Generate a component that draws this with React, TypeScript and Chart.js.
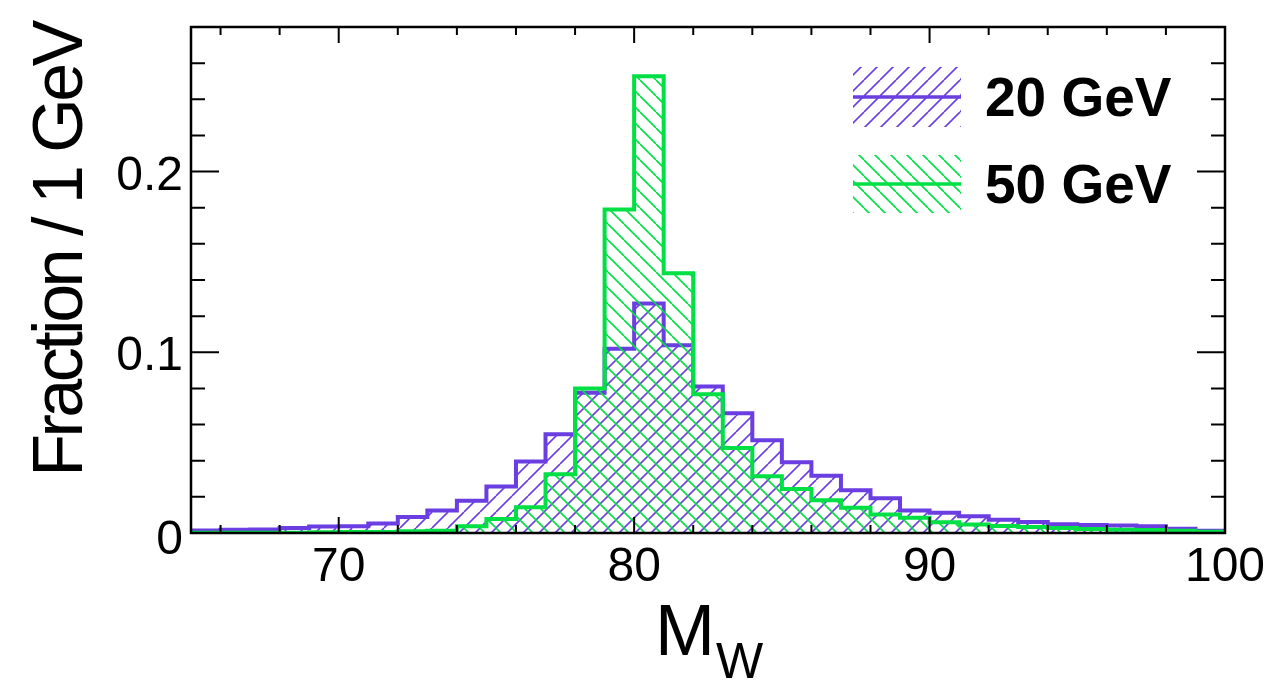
import React, { useEffect, useRef } from "react";
import { Chart, registerables } from "chart.js";

Chart.register(...registerables);

// low edge of each 1 GeV bin
const binLow = [
  65, 66, 67, 68, 69, 70, 71, 72, 73, 74, 75, 76, 77, 78, 79, 80, 81, 82,
  83, 84, 85, 86, 87, 88, 89, 90, 91, 92, 93, 94, 95, 96, 97, 98, 99,
];
const binHigh = 100;

const frac20 = [
  0.0014, 0.0018, 0.002, 0.0028, 0.0036, 0.0038, 0.0053, 0.0089, 0.0124,
  0.0179, 0.0258, 0.0395, 0.0546, 0.0776, 0.1019, 0.127, 0.1039, 0.081,
  0.0663, 0.0513, 0.0391, 0.0317, 0.0236, 0.0192, 0.0124, 0.0112, 0.0093,
  0.0074, 0.0061, 0.0048, 0.0044, 0.0042, 0.0037, 0.0024, 0.0013,
];
const frac50 = [
  0.0002, 0.0002, 0.0002, 0.0002, 0.0004, 0.0005, 0.0006, 0.0009, 0.0013,
  0.0037, 0.0078, 0.0143, 0.0325, 0.0799, 0.179, 0.2528, 0.1438, 0.0768,
  0.047, 0.0314, 0.0244, 0.0181, 0.014, 0.0103, 0.0085, 0.006, 0.0047,
  0.0039, 0.0033, 0.0028, 0.0022, 0.0018, 0.0016, 0.0013, 0.0007,
];

const seriesNames = ["20 GeV", "50 GeV"];
const xTickLabels = [70, 80, 90, 100];
const yTickLabels = [0, 0.1, 0.2];

const PURPLE = "#6a3ee0";
const GREEN = "#00df44";
const FONT = "'Liberation Sans', Arial, Helvetica, sans-serif";

const hatch = (color: string, forward: boolean) => {
  const s = 16;
  const tile = document.createElement("canvas");
  tile.width = s;
  tile.height = s;
  const c = tile.getContext("2d")!;
  c.strokeStyle = color;
  c.lineWidth = 1.6;
  for (const k of [-s, 0, s]) {
    c.beginPath();
    if (forward) {
      c.moveTo(k, s);
      c.lineTo(k + s, 0);
    } else {
      c.moveTo(k, 0);
      c.lineTo(k + s, s);
    }
    c.stroke();
  }
  return c.createPattern(tile, "repeat")!;
};

const toSteps = (vals: number[]) => [
  ...binLow.map((x, i) => ({ x, y: vals[i] })),
  { x: binHigh, y: vals[vals.length - 1] },
];

const App = () => {
  const chartRef = useRef<HTMLCanvasElement | null>(null);

  useEffect(() => {
    document.body.style.margin = "0";
    if (!chartRef.current) return;

    const fill20 = hatch(PURPLE, true);
    const fill50 = hatch(GREEN, false);

    // frame, inward ticks, labels, titles and legend in ROOT style
    const decor = {
      id: "decor",
      afterDraw(chart: any) {
        const ctx = chart.ctx as CanvasRenderingContext2D;
        const a = chart.chartArea;
        const xs = chart.scales.x;
        const ys = chart.scales.y;
        ctx.save();
        ctx.strokeStyle = "#000";
        ctx.fillStyle = "#000";
        ctx.lineWidth = 2.5;
        ctx.strokeRect(a.left, a.top, a.right - a.left, a.bottom - a.top);

        ctx.lineWidth = 2;
        ctx.beginPath();
        for (let v = 66; v < 100; v += 2) {
          const px = xs.getPixelForValue(v);
          const len = v % 10 === 0 ? 16 : 8;
          ctx.moveTo(px, a.bottom);
          ctx.lineTo(px, a.bottom - len);
          ctx.moveTo(px, a.top);
          ctx.lineTo(px, a.top + len);
        }
        for (let k = 1; k <= 13; k++) {
          const v = k * 0.02;
          const py = ys.getPixelForValue(v);
          const len = k % 5 === 0 ? 28 : 14;
          ctx.moveTo(a.left, py);
          ctx.lineTo(a.left + len, py);
          ctx.moveTo(a.right, py);
          ctx.lineTo(a.right - len, py);
        }
        ctx.stroke();

        ctx.font = `48px ${FONT}`;
        ctx.textBaseline = "alphabetic";
        ctx.textAlign = "center";
        xTickLabels.forEach((v) => {
          ctx.fillText(String(v), xs.getPixelForValue(v), a.bottom + 48);
        });
        ctx.textAlign = "right";
        yTickLabels.forEach((v) => {
          const py = ys.getPixelForValue(v);
          ctx.fillText(String(v), a.left - 8, py + (v === 0 ? 21 : 18));
        });

        // axis titles
        ctx.textAlign = "left";
        ctx.font = `72px ${FONT}`;
        ctx.fillText("M", 655, 655);
        ctx.font = `50px ${FONT}`;
        ctx.fillText("W", 716, 678);

        ctx.save();
        ctx.translate(82, 250);
        ctx.rotate(-Math.PI / 2);
        ctx.textAlign = "center";
        ctx.font = `70px ${FONT}`;
        (ctx as any).letterSpacing = "-3.5px";
        ctx.fillText("Fraction / 1 GeV", 0, 0);
        ctx.restore();

        // legend
        const items = [
          { label: seriesNames[0], color: PURPLE, pat: fill20, top: 67, h: 60 },
          { label: seriesNames[1], color: GREEN, pat: fill50, top: 155, h: 58 },
        ];
        items.forEach((it) => {
          ctx.fillStyle = it.pat;
          ctx.fillRect(853, it.top, 108, it.h);
          ctx.strokeStyle = it.color;
          ctx.lineWidth = 3.5;
          ctx.beginPath();
          const ly = it.top + it.h / 2;
          ctx.moveTo(853, ly);
          ctx.lineTo(961, ly);
          ctx.stroke();
          ctx.fillStyle = "#000";
          ctx.font = `bold 55px ${FONT}`;
          ctx.textAlign = "left";
          ctx.fillText(it.label, 985, ly + 19);
        });
        ctx.restore();
      },
    };

    const myChart = new Chart(chartRef.current, {
      type: "line",
      data: {
        datasets: [
          {
            label: seriesNames[0],
            data: toSteps(frac20),
            stepped: true,
            borderColor: PURPLE,
            borderWidth: 4,
            backgroundColor: fill20,
            fill: "origin",
            pointRadius: 0,
            order: 1,
          },
          {
            label: seriesNames[1],
            data: toSteps(frac50),
            stepped: true,
            borderColor: GREEN,
            borderWidth: 4,
            backgroundColor: fill50,
            fill: "origin",
            pointRadius: 0,
            order: 0,
          },
        ],
      },
      options: {
        animation: false,
        responsive: false,
        layout: { padding: { left: 191, right: 53, top: 27, bottom: 152 } },
        scales: {
          x: { type: "linear", min: 65, max: binHigh, display: false },
          y: { type: "linear", min: 0, max: 0.28, display: false },
        },
        plugins: {
          legend: { display: false },
          tooltip: { enabled: false },
        },
      },
      plugins: [decor],
    });

    return () => {
      myChart.destroy();
    };
  }, []);

  return (
    <canvas
      ref={chartRef}
      width={1278}
      height={685}
      style={{ display: "block" }}
    />
  );
};

export default App;
